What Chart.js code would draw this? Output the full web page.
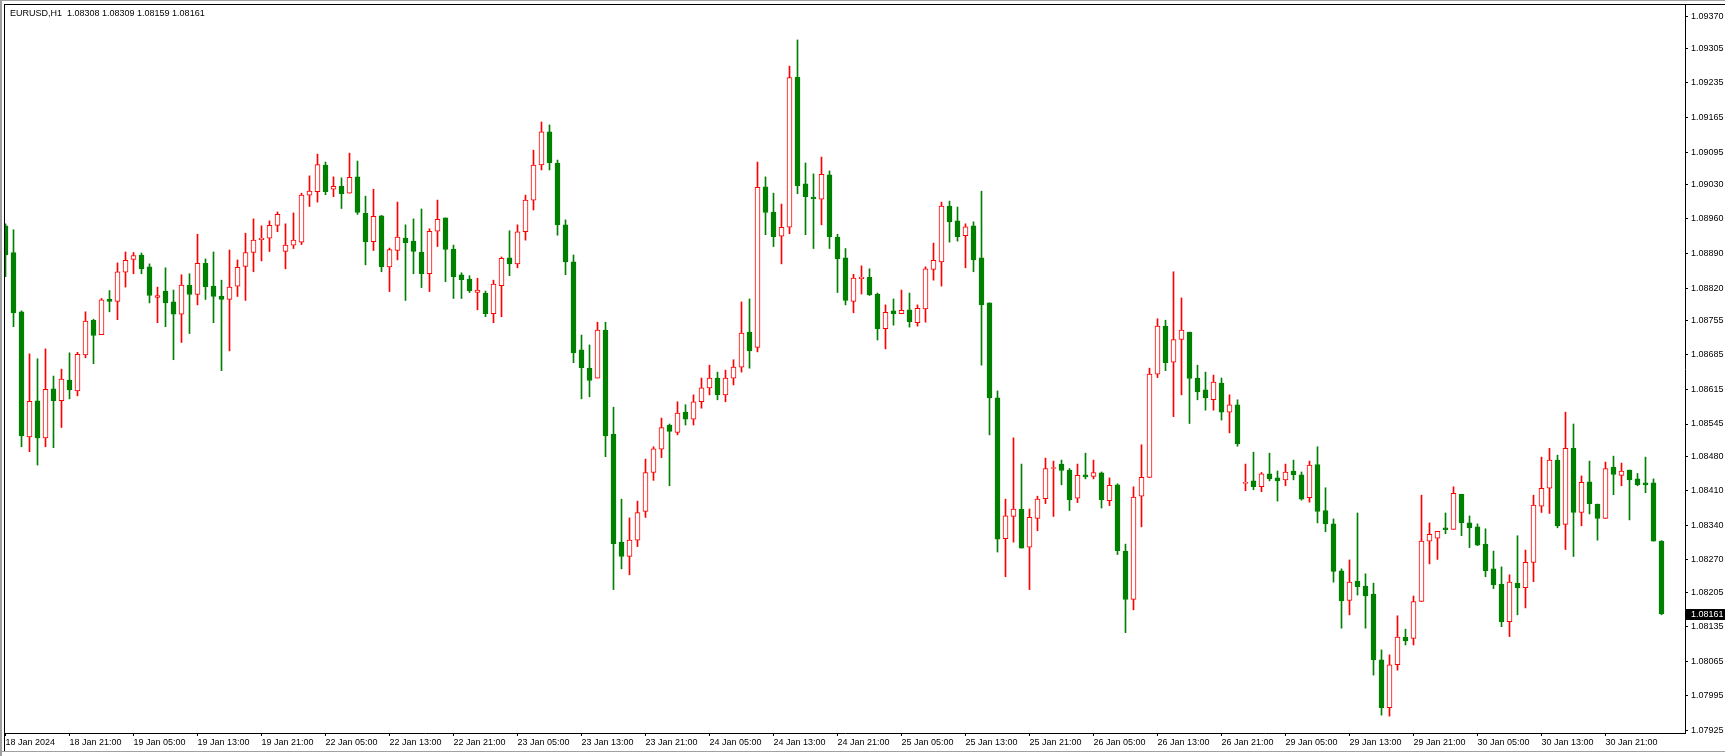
<!DOCTYPE html>
<html>
<head>
<meta charset="utf-8">
<title>EURUSD,H1</title>
<script src="https://cdn.jsdelivr.net/npm/chart.js@4.4.1/dist/chart.umd.min.js"></script>
<style>
  html, body { margin: 0; padding: 0; background: #fff; }
  #wrap  { position: relative; width: 1725px; height: 756px; overflow: hidden; }
  #title {
    position: absolute; left: 10px; top: 8px;
    font: 9px 'Liberation Sans', Arial, sans-serif; line-height: 11px;
    white-space: pre; color: #000;
  }
</style>
</head>
<body>
<div id="wrap">
  <canvas id="chart" width="1725" height="756"></canvas>
  <div id="title">EURUSD,H1  1.08308 1.08309 1.08159 1.08161</div>
</div>
<script>
'use strict';

// ─── Data (EURUSD H1, one entry per bar) ──────────────────────────────────────
const OPEN = [
  1.08946,1.08892,1.08772,1.08519,1.08592,1.08517,1.08616,1.08592,1.08634,1.08612,
  1.08685,1.08755,1.08726,1.08798,1.08793,1.08852,1.08878,1.08887,1.08863,1.08801,
  1.08814,1.08792,1.08767,1.08826,1.08807,1.08870,1.08824,1.08804,1.08797,1.08824,
  1.08864,1.08892,1.08918,1.08921,1.08947,1.08894,1.08907,1.08913,1.09008,1.09015,
  1.09069,1.09020,1.09026,1.09012,1.09045,1.08971,1.08914,1.08966,1.08863,1.08896,
  1.08921,1.08915,1.08893,1.08849,1.08935,1.08962,1.08899,1.08847,1.08838,1.08811,
  1.08810,1.08768,1.08825,1.08881,1.08869,1.08934,1.08998,1.09069,1.09136,1.09073,
  1.08948,1.08873,1.08695,1.08658,1.08638,1.08735,1.08524,1.08306,1.08277,1.08310,
  1.08368,1.08447,1.08494,1.08543,1.08528,1.08569,1.08555,1.08590,1.08618,1.08638,
  1.08604,1.08638,1.08660,1.08731,1.08700,1.09025,1.08974,1.08925,1.08943,1.09247,
  1.09031,1.09004,1.09000,1.09049,1.08923,1.08881,1.08793,1.08839,1.08842,1.08808,
  1.08738,1.08774,1.08768,1.08776,1.08750,1.08778,1.08858,1.08873,1.08986,1.08956,
  1.08926,1.08946,1.08881,1.08790,1.08598,1.08313,1.08358,1.08373,1.08296,1.08354,
  1.08394,1.08455,1.08464,1.08452,1.08395,1.08442,1.08439,1.08446,1.08390,1.08422,
  1.08288,1.08190,1.08399,1.08437,1.08646,1.08743,1.08670,1.08716,1.08731,1.08638,
  1.08614,1.08594,1.08628,1.08569,1.08584,1.08425,1.08430,1.08418,1.08444,1.08436,
  1.08432,1.08450,1.08442,1.08396,1.08463,1.08370,1.08343,1.08248,1.08188,1.08227,
  1.08217,1.08201,1.08068,1.07971,1.08058,1.08114,1.08111,1.08186,1.08308,1.08314,
  1.08335,1.08332,1.08403,1.08345,1.08337,1.08302,1.08252,1.08221,1.08145,1.08223,
  1.08214,1.08265,1.08379,1.08415,1.08472,1.08342,1.08496,1.08366,1.08428,1.08383,
  1.08354,1.08458,1.08441,1.08452,1.08434,1.08426,1.08426,1.08308
];
const HIGH = [
  1.08950,1.08938,1.08774,1.08687,1.08677,1.08697,1.08642,1.08656,1.08689,1.08690,
  1.08772,1.08757,1.08799,1.08815,1.08871,1.08893,1.08892,1.08891,1.08869,1.08822,
  1.08861,1.08816,1.08847,1.08849,1.08929,1.08879,1.08893,1.08836,1.08897,1.08877,
  1.08931,1.08960,1.08946,1.08956,1.08974,1.08950,1.08972,1.09012,1.09047,1.09091,
  1.09075,1.09045,1.09043,1.09093,1.09077,1.09006,1.09020,1.08967,1.08901,1.08994,
  1.08948,1.08960,1.08980,1.08940,1.08998,1.08962,1.08907,1.08851,1.08845,1.08840,
  1.08814,1.08836,1.08883,1.08936,1.08948,1.09008,1.09099,1.09156,1.09150,1.09079,
  1.08958,1.08887,1.08725,1.08705,1.08751,1.08751,1.08579,1.08393,1.08355,1.08389,
  1.08474,1.08499,1.08557,1.08545,1.08590,1.08584,1.08604,1.08638,1.08664,1.08650,
  1.08654,1.08675,1.08792,1.08798,1.09075,1.09045,1.09012,1.08990,1.09269,1.09322,
  1.09073,1.09051,1.09085,1.09057,1.08929,1.08900,1.08848,1.08865,1.08859,1.08810,
  1.08786,1.08798,1.08816,1.08810,1.08786,1.08863,1.08911,1.08994,1.08996,1.08984,
  1.08950,1.08954,1.09016,1.08790,1.08612,1.08393,1.08517,1.08464,1.08373,1.08399,
  1.08476,1.08470,1.08472,1.08455,1.08464,1.08486,1.08472,1.08448,1.08436,1.08424,
  1.08302,1.08418,1.08503,1.08658,1.08758,1.08755,1.08853,1.08800,1.08731,1.08664,
  1.08650,1.08644,1.08638,1.08604,1.08594,1.08464,1.08488,1.08447,1.08486,1.08450,
  1.08464,1.08472,1.08448,1.08470,1.08499,1.08416,1.08353,1.08252,1.08270,1.08365,
  1.08242,1.08223,1.08088,1.08078,1.08157,1.08130,1.08197,1.08401,1.08345,1.08328,
  1.08365,1.08418,1.08403,1.08359,1.08343,1.08333,1.08288,1.08256,1.08240,1.08319,
  1.08290,1.08401,1.08478,1.08496,1.08482,1.08569,1.08545,1.08440,1.08470,1.08383,
  1.08468,1.08480,1.08466,1.08452,1.08445,1.08478,1.08434,1.08309
];
const LOW = [
  1.08843,1.08742,1.08499,1.08489,1.08462,1.08499,1.08497,1.08538,1.08596,1.08602,
  1.08679,1.08667,1.08726,1.08772,1.08756,1.08822,1.08849,1.08849,1.08790,1.08750,
  1.08742,1.08675,1.08710,1.08728,1.08786,1.08797,1.08750,1.08653,1.08693,1.08803,
  1.08795,1.08853,1.08875,1.08894,1.08934,1.08859,1.08900,1.08908,1.08985,1.08994,
  1.09009,1.09005,1.08981,1.09012,1.08969,1.08867,1.08896,1.08853,1.08813,1.08877,
  1.08795,1.08849,1.08821,1.08813,1.08904,1.08833,1.08799,1.08799,1.08811,1.08776,
  1.08762,1.08750,1.08762,1.08845,1.08861,1.08917,1.08978,1.09059,1.09059,1.08927,
  1.08847,1.08669,1.08596,1.08600,1.08638,1.08479,1.08210,1.08252,1.08240,1.08297,
  1.08356,1.08431,1.08477,1.08420,1.08523,1.08543,1.08543,1.08577,1.08604,1.08594,
  1.08590,1.08624,1.08650,1.08658,1.08691,1.08928,1.08904,1.08869,1.08930,1.09011,
  1.08928,1.08900,1.08948,1.08900,1.08811,1.08786,1.08770,1.08808,1.08805,1.08715,
  1.08697,1.08745,1.08768,1.08741,1.08743,1.08751,1.08836,1.08824,1.08913,1.08915,
  1.08861,1.08853,1.08664,1.08523,1.08286,1.08236,1.08306,1.08294,1.08210,1.08329,
  1.08384,1.08358,1.08422,1.08370,1.08386,1.08434,1.08434,1.08375,1.08380,1.08281,
  1.08123,1.08169,1.08337,1.08437,1.08639,1.08653,1.08560,1.08604,1.08546,1.08594,
  1.08573,1.08573,1.08553,1.08527,1.08500,1.08410,1.08412,1.08408,1.08430,1.08389,
  1.08420,1.08432,1.08391,1.08387,1.08345,1.08327,1.08225,1.08132,1.08159,1.08199,
  1.08132,1.08037,1.07956,1.07954,1.08047,1.08098,1.08098,1.08186,1.08262,1.08271,
  1.08323,1.08332,1.08319,1.08295,1.08299,1.08236,1.08212,1.08135,1.08115,1.08159,
  1.08173,1.08226,1.08366,1.08364,1.08335,1.08291,1.08277,1.08339,1.08363,1.08310,
  1.08354,1.08402,1.08420,1.08351,1.08420,1.08406,1.08308,1.08159
];
const CLOSE = [
  1.08887,1.08770,1.08521,1.08591,1.08517,1.08615,1.08592,1.08636,1.08614,1.08686,
  1.08753,1.08724,1.08796,1.08793,1.08853,1.08876,1.08886,1.08859,1.08805,1.08805,
  1.08790,1.08767,1.08826,1.08807,1.08870,1.08823,1.08803,1.08797,1.08822,1.08862,
  1.08892,1.08917,1.08921,1.08947,1.08969,1.08907,1.08917,1.09008,1.09016,1.09070,
  1.09015,1.09026,1.09011,1.09044,1.08973,1.08914,1.08965,1.08863,1.08898,1.08923,
  1.08912,1.08894,1.08849,1.08935,1.08959,1.08898,1.08843,1.08837,1.08815,1.08816,
  1.08768,1.08828,1.08880,1.08869,1.08934,1.08998,1.09069,1.09136,1.09073,1.08948,
  1.08873,1.08689,1.08659,1.08633,1.08735,1.08521,1.08303,1.08277,1.08310,1.08366,
  1.08447,1.08495,1.08538,1.08530,1.08567,1.08555,1.08590,1.08618,1.08638,1.08604,
  1.08638,1.08660,1.08729,1.08693,1.09024,1.08973,1.08924,1.08943,1.09246,1.09027,
  1.09005,1.09001,1.09050,1.08924,1.08879,1.08795,1.08840,1.08842,1.08806,1.08738,
  1.08771,1.08768,1.08775,1.08752,1.08779,1.08859,1.08876,1.08986,1.08954,1.08924,
  1.08944,1.08877,1.08786,1.08598,1.08312,1.08359,1.08373,1.08294,1.08356,1.08393,
  1.08455,1.08457,1.08451,1.08392,1.08441,1.08438,1.08447,1.08392,1.08421,1.08289,
  1.08190,1.08397,1.08437,1.08646,1.08743,1.08669,1.08716,1.08735,1.08637,1.08610,
  1.08598,1.08630,1.08569,1.08584,1.08505,1.08427,1.08418,1.08444,1.08434,1.08430,
  1.08448,1.08442,1.08393,1.08462,1.08368,1.08343,1.08247,1.08187,1.08225,1.08216,
  1.08197,1.08068,1.07971,1.08058,1.08114,1.08106,1.08186,1.08308,1.08322,1.08328,
  1.08331,1.08405,1.08345,1.08335,1.08300,1.08248,1.08220,1.08145,1.08225,1.08214,
  1.08265,1.08381,1.08415,1.08472,1.08339,1.08496,1.08366,1.08427,1.08384,1.08354,
  1.08455,1.08443,1.08450,1.08432,1.08422,1.08422,1.08308,1.08161
];

// time labels, one every LABEL_STEP bars starting at the first bar
const LABEL_STEP = 8;
const X_LABELS = [
  '18 Jan 2024', '18 Jan 21:00', '19 Jan 05:00', '19 Jan 13:00', '19 Jan 21:00',
  '22 Jan 05:00', '22 Jan 13:00', '22 Jan 21:00', '23 Jan 05:00', '23 Jan 13:00',
  '23 Jan 21:00', '24 Jan 05:00', '24 Jan 13:00', '24 Jan 21:00', '25 Jan 05:00',
  '25 Jan 13:00', '25 Jan 21:00', '26 Jan 05:00', '26 Jan 13:00', '26 Jan 21:00',
  '29 Jan 05:00', '29 Jan 13:00', '29 Jan 21:00', '30 Jan 05:00', '30 Jan 13:00',
  '30 Jan 21:00'
];

const Y_TICKS = [
  1.09370, 1.09305, 1.09235, 1.09165, 1.09095, 1.09030, 1.08960, 1.08890,
  1.08820, 1.08755, 1.08685, 1.08615, 1.08545, 1.08480, 1.08410, 1.08340,
  1.08270, 1.08205, 1.08135, 1.08065, 1.07995, 1.07925
];

const Y_MIN = 1.079199;
const Y_MAX = 1.093927;

// ─── Style ────────────────────────────────────────────────────────────────────
const FONT      = "'Liberation Sans', Arial, sans-serif";
const BULL      = '#ff0000';
const BEAR      = '#008000';
const AXIS      = '#000000';

const isBull = (i) => CLOSE[i] > OPEN[i];

const bodyData = OPEN.map((o, i) => ({ x: i, y: [o, CLOSE[i]] }));
const wickData = LOW.map((l, i)  => ({ x: i, y: [l, HIGH[i]] }));

// ─── Frame + last price marker ────────────────────────────────────────────────
const framePlugin = {
  id: 'mtFrame',
  afterDraw(chart) {
    const { ctx, chartArea: a, scales: { y } } = chart;
    const W = chart.width;
    const H = chart.height;
    ctx.save();

    // window border
    ctx.fillStyle = '#a0a0a0';
    ctx.fillRect(0, 0, W, 1);
    ctx.fillRect(0, 0, 2, H);
    ctx.fillRect(0, H - 5, W, 1);
    ctx.fillStyle = '#000';
    ctx.fillRect(a.left - 1, a.top - 1, W - a.left + 1, 1);
    ctx.fillRect(a.left - 1, a.top - 1, 1, H - 5 - a.top + 1);

    // last price box
    const last = CLOSE[CLOSE.length - 1];
    const py   = y.getPixelForValue(last);
    ctx.fillStyle = '#000';
    ctx.fillRect(a.right + 1, Math.round(py) - 5, W - a.right - 1, 11);
    ctx.fillStyle = '#fff';
    ctx.font = '9px ' + FONT;
    ctx.textBaseline = 'middle';
    ctx.fillText(last.toFixed(5), a.right + 6, py + 0.5);
    ctx.restore();
  }
};

// ─── Chart ────────────────────────────────────────────────────────────────────
new Chart(document.getElementById('chart').getContext('2d'), {
  type: 'bar',
  data: {
    datasets: [
      {
        label:           'body',
        data:            bodyData,
        grouped:         false,
        barThickness:    5,
        minBarLength:    1,
        borderWidth:     1,
        borderSkipped:   false,
        backgroundColor: OPEN.map((_, i) => (isBull(i) ? '#ffffff' : BEAR)),
        borderColor:     OPEN.map((_, i) => (isBull(i) ? BULL : BEAR)),
      },
      {
        label:           'wick',
        data:            wickData,
        grouped:         false,
        barThickness:    1,
        borderWidth:     0,
        backgroundColor: OPEN.map((_, i) => (isBull(i) ? BULL : BEAR)),
      },
    ],
  },
  options: {
    responsive:       false,
    animation:        false,
    devicePixelRatio: 1,
    events:           [],
    layout: { padding: { top: 5, left: 5, right: 0, bottom: 0 } },
    plugins: {
      legend:  { display: false },
      tooltip: { enabled: false },
    },
    scales: {
      x: {
        type:   'linear',
        offset: false,
        bounds: 'data',
        min:    -0.0625,
        max:    209.9375,
        afterBuildTicks: (s) => {
          s.ticks = X_LABELS.map((_, k) => ({ value: k * LABEL_STEP }));
        },
        afterFit: (s) => {
          s.height = 23;
          s.paddingLeft = 0;
          s.paddingRight = 0;
        },
        ticks: {
          callback:    (v) => X_LABELS[Math.round(v / LABEL_STEP)],
          align:       'start',
          autoSkip:    false,
          maxRotation: 0,
          padding:     1,
          color:       '#000',
          font:        { family: FONT, size: 9 },
        },
        grid:   { offset: false, drawOnChartArea: false, drawTicks: true, tickLength: 3, color: AXIS },
        border: { display: true, color: AXIS, width: 1 },
      },
      y: {
        type:     'linear',
        position: 'right',
        bounds:   'data',
        min:      Y_MIN,
        max:      Y_MAX,
        afterBuildTicks: (s) => {
          s.ticks = Y_TICKS.map((v) => ({ value: v }));
        },
        afterFit: (s) => {
          s.width = 40;
          s.paddingTop = 0;
          s.paddingBottom = 0;
        },
        ticks: {
          callback: (v) => Number(v).toFixed(5),
          autoSkip: false,
          padding:  3,
          color:    '#000',
          font:     { family: FONT, size: 9 },
        },
        grid:   { drawOnChartArea: false, drawTicks: true, tickLength: 3, color: AXIS },
        border: { display: true, color: AXIS, width: 1 },
      },
    },
  },
  plugins: [framePlugin],
});
</script>
</body>
</html>
